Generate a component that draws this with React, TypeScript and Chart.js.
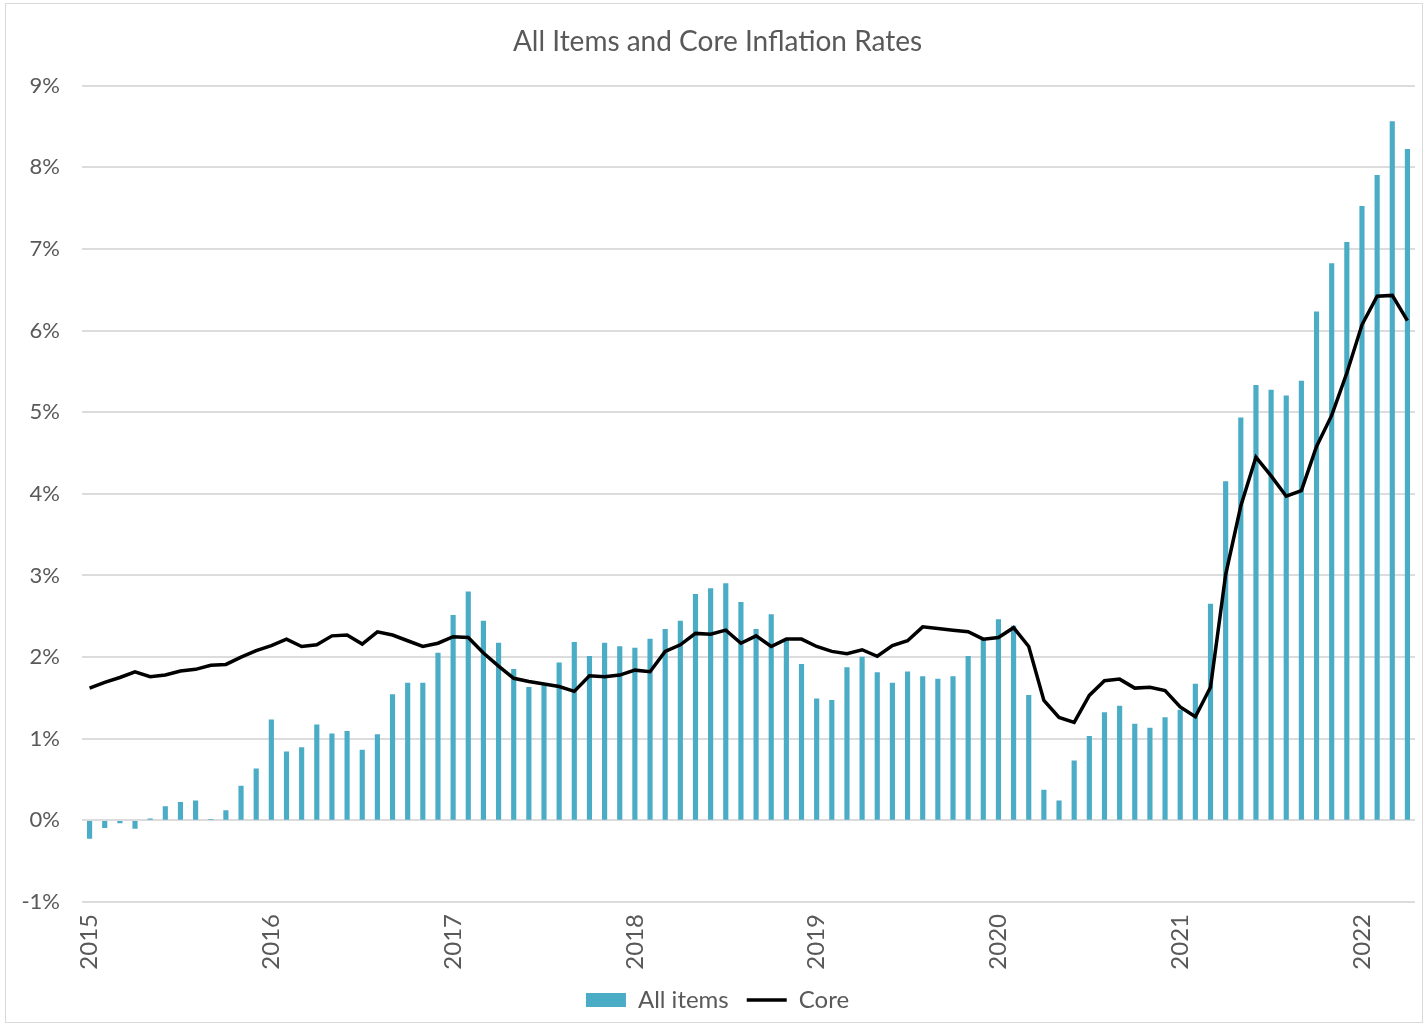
import React, { useEffect, useRef } from "react";
import { Chart, registerables } from "chart.js";

Chart.register(...registerables);

// Monthly observations, January 2015 through April 2022
const YEARS = [2015, 2016, 2017, 2018, 2019, 2020, 2021, 2022];
const LAST_MONTH_2022 = 4;

const months: string[] = [];
YEARS.forEach((y) => {
  const n = y === 2022 ? LAST_MONTH_2022 : 12;
  for (let m = 1; m <= n; m++) months.push(`${y}-${String(m).padStart(2, "0")}`);
});

// 12-month change, all items (%)
const allItems = [
  -0.22, -0.09, -0.03, -0.1, 0.02, 0.17, 0.22, 0.24, 0.01, 0.12, 0.42, 0.63,
  1.23, 0.84, 0.89, 1.17, 1.06, 1.09, 0.86, 1.05, 1.54, 1.68, 1.68, 2.05,
  2.51, 2.8, 2.44, 2.17, 1.85, 1.63, 1.65, 1.93, 2.18, 2.01, 2.17, 2.13,
  2.11, 2.22, 2.34, 2.44, 2.77, 2.84, 2.9, 2.67, 2.34, 2.52, 2.22, 1.91,
  1.49, 1.47, 1.87, 2.0, 1.81, 1.68, 1.82, 1.76, 1.73, 1.76, 2.01, 2.21,
  2.46, 2.38, 1.53, 0.37, 0.24, 0.73, 1.03, 1.32, 1.4, 1.18, 1.13, 1.26,
  1.35, 1.67, 2.65, 4.15, 4.93, 5.33, 5.27, 5.2, 5.38, 6.23, 6.82, 7.08,
  7.52, 7.9, 8.56, 8.22,
];

// 12-month change, core (%)
const core = [
  1.62, 1.69, 1.75, 1.82, 1.76, 1.78, 1.83, 1.85, 1.9, 1.91, 2.0, 2.08,
  2.14, 2.22, 2.13, 2.15, 2.26, 2.27, 2.16, 2.31, 2.27, 2.2, 2.13, 2.17,
  2.25, 2.24, 2.05, 1.89, 1.74, 1.7, 1.67, 1.64, 1.58, 1.77, 1.76, 1.78,
  1.84, 1.82, 2.07, 2.15, 2.29, 2.28, 2.33, 2.17, 2.26, 2.13, 2.22, 2.22,
  2.13, 2.07, 2.04, 2.09, 2.01, 2.14, 2.2, 2.37, 2.35, 2.33, 2.31, 2.22,
  2.24, 2.36, 2.13, 1.47, 1.26, 1.2, 1.53, 1.71, 1.73, 1.62, 1.63, 1.59,
  1.39, 1.27, 1.63, 3.01, 3.85, 4.45, 4.22, 3.97, 4.04, 4.58, 4.96, 5.48,
  6.07, 6.42, 6.43, 6.12,
];

const Y_MIN = -1;
const Y_MAX = 9;

const TEXT = "#595959";
const FONT = "Lato, 'Open Sans', sans-serif";

export default function App() {
  const canvasRef = useRef<HTMLCanvasElement | null>(null);

  useEffect(() => {
    if (!canvasRef.current) return;
    const chart = new Chart(canvasRef.current, {
      type: "bar",
      data: {
        labels: months,
        datasets: [
          {
            type: "bar",
            label: "All items",
            data: allItems,
            backgroundColor: "#4bacc6",
            borderWidth: 0,
            barThickness: 4.5,
            order: 2,
            pointStyle: "rect",
          },
          {
            type: "line",
            label: "Core",
            data: core,
            borderColor: "#000000",
            backgroundColor: "#000000",
            borderWidth: 3.5,
            pointRadius: 0,
            tension: 0,
            order: 1,
            pointStyle: "line",
          },
        ],
      },
      options: {
        animation: false,
        responsive: true,
        maintainAspectRatio: false,
        layout: { padding: { left: 14, right: 7, top: 0, bottom: 0 } },
        plugins: {
          title: {
            display: true,
            text: "All Items and Core Inflation Rates",
            color: TEXT,
            font: { family: FONT, size: 28, weight: "normal" },
            padding: { top: 21, bottom: 27 },
          },
          legend: {
            display: true,
            position: "bottom",
            labels: {
              color: TEXT,
              font: { family: FONT, size: 24 },
              usePointStyle: true,
              pointStyleWidth: 40,
              boxHeight: 14,
              padding: 18,
              sort: (a: any, b: any) => a.datasetIndex - b.datasetIndex,
            },
          },
          tooltip: { enabled: false },
        },
        scales: {
          x: {
            afterFit: (scale: any) => {
              scale.height = 68;
              scale.paddingLeft = 0;
              scale.paddingRight = 0;
            },
            grid: { display: false, drawTicks: false },
            border: { display: false },
            ticks: {
              autoSkip: false,
              maxRotation: 90,
              minRotation: 90,
              padding: 12,
              color: TEXT,
              font: { family: FONT, size: 24 },
              callback: (_v: any, i: number) =>
                months[i].endsWith("-01") ? months[i].slice(0, 4) : "",
            },
          },
          y: {
            min: Y_MIN,
            max: Y_MAX,
            afterFit: (scale: any) => {
              scale.width = 62;
            },
            grid: { color: "#dcdcdc", lineWidth: 2, drawTicks: false },
            border: { display: false },
            ticks: {
              stepSize: 1,
              padding: 22,
              color: TEXT,
              font: { family: FONT, size: 22 },
              callback: (v: any) => `${v}%`,
            },
          },
        },
      },
    });
    return () => chart.destroy();
  }, []);

  return (
    <div
      style={{
        position: "absolute",
        left: 5,
        top: 3,
        width: 1418,
        height: 1020,
        border: "1px solid #dadada",
        boxSizing: "border-box",
        background: "#ffffff",
      }}
    >
      <canvas ref={canvasRef} />
    </div>
  );
}
